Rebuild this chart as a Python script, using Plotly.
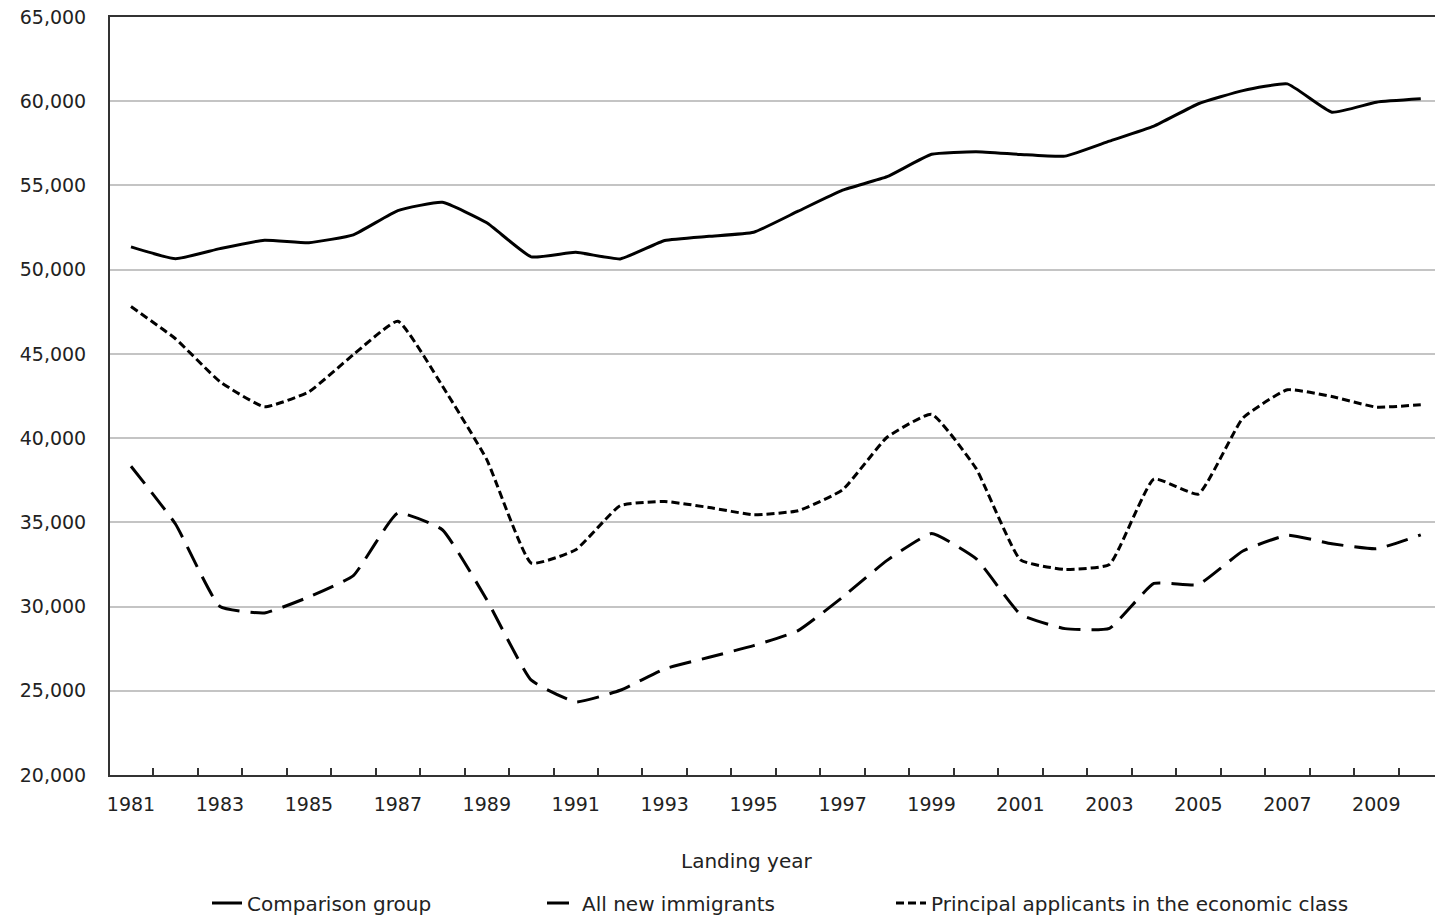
import plotly.graph_objects as go

years = list(range(1981, 2011))

comparison_group = [51350, 50650, 51250, 51750, 51600, 52070, 53510, 54000, 52780, 50760,
                    51030, 50640, 51730, 51980, 52220, 53470, 54720, 55520, 56850, 57000,
                    56840, 56740, 57630, 58520, 59850, 60630, 61030, 59350, 59940, 60140]

all_new_immigrants = [38330, 34900, 30000, 29620, 30570, 31840, 35550, 34560, 30400, 25630,
                      24340, 25030, 26300, 26990, 27680, 28570, 30560, 32740, 34330, 32850,
                      29540, 28690, 28710, 31370, 31310, 33300, 34230, 33730, 33430, 34260]

principal_applicants = [47810, 45900, 43350, 41860, 42750, 44960, 46940, 43100, 38720, 32580,
                        33370, 35990, 36240, 35880, 35450, 35690, 36930, 40050, 41420, 38200,
                        32770, 32200, 32500, 37570, 36680, 41190, 42870, 42470, 41840, 41980]

x_tick_vals = list(range(1981, 2010, 2))
x_tick_text = [str(v) for v in x_tick_vals]
y_tick_vals = list(range(20000, 65001, 5000))
y_tick_text = [f"{v:,}" for v in y_tick_vals]

FONT = "DejaVu Sans"
TXT = "#222222"
SMOOTH = 0.4

fig = go.Figure()
fig.add_trace(go.Scatter(x=years, y=comparison_group, mode="lines", name="Comparison group",
                         line=dict(color="black", width=3, shape="spline", smoothing=SMOOTH),
                         legend="legend"))
fig.add_trace(go.Scatter(x=years, y=all_new_immigrants, mode="lines", name="All new immigrants",
                         line=dict(color="black", width=3, dash="22px,11px", shape="spline", smoothing=SMOOTH),
                         legend="legend2"))
fig.add_trace(go.Scatter(x=years, y=principal_applicants, mode="lines",
                         name="Principal applicants in the economic class",
                         line=dict(color="black", width=3, dash="8px,4px", shape="spline", smoothing=SMOOTH),
                         legend="legend3"))

W, H = 1435, 918
PLOT_LEFT, PLOT_RIGHT, PLOT_TOP, PLOT_BOTTOM = 110, 1435, 17, 775
L, R, T, B = PLOT_LEFT, W - PLOT_RIGHT, PLOT_TOP, H - PLOT_BOTTOM
pw, ph = PLOT_RIGHT - PLOT_LEFT, PLOT_BOTTOM - PLOT_TOP

def px_x(p):
    return (p - PLOT_LEFT) / pw

def px_y(p):
    return (PLOT_BOTTOM - p) / ph

def cx(p):
    return p / W

def cy(p):
    return (H - p) / H

legend_common = dict(orientation="h", yanchor="middle", xanchor="left", bgcolor="rgba(0,0,0,0)",
                     xref="container", yref="container",
                     font=dict(family=FONT, size=20, color=TXT), borderwidth=0)

fig.update_layout(
    width=W, height=H,
    margin=dict(l=L, r=R, t=T, b=B, autoexpand=False),
    paper_bgcolor="white", plot_bgcolor="white",
    font=dict(family=FONT, size=20, color=TXT),
    showlegend=True,
    legend=dict(x=cx(207), y=cy(903), **legend_common),
    legend2=dict(x=cx(542), y=cy(903), **legend_common),
    legend3=dict(x=cx(891), y=cy(903), **legend_common),
    xaxis=dict(
        range=[1980.528, 2010.32],
        tickvals=x_tick_vals, ticktext=x_tick_text,
        ticks="", showgrid=False, zeroline=False,
        showline=True, linecolor="#333333", linewidth=2, mirror=True,
        tickfont=dict(family=FONT, size=19, color=TXT),
        ticklabelstandoff=11, automargin=False,
        minor=dict(tick0=1980.5, dtick=1, ticks="inside", ticklen=7, tickcolor="#333333",
                   tickwidth=1.5, showgrid=False),
    ),
    yaxis=dict(
        range=[20000, 65000],
        tickvals=y_tick_vals, ticktext=y_tick_text,
        ticks="", showgrid=True, gridcolor="#c4c4c4", gridwidth=1.5, zeroline=False,
        showline=True, linecolor="#333333", linewidth=2,
        tickfont=dict(family=FONT, size=19, color=TXT),
        ticklabelstandoff=18, automargin=False,
    ),
    annotations=[dict(text="Landing year", x=px_x(746), y=px_y(861), xref="paper", yref="paper",
                      showarrow=False, xanchor="center", yanchor="middle",
                      font=dict(family=FONT, size=20, color=TXT))],
)

fig.write_html(
    "out.html",
    config={"displayModeBar": False},
    post_script="document.documentElement.style.margin='0';document.body.style.margin='0';"
                "document.documentElement.style.overflow='hidden';document.body.style.overflow='hidden';",
)
